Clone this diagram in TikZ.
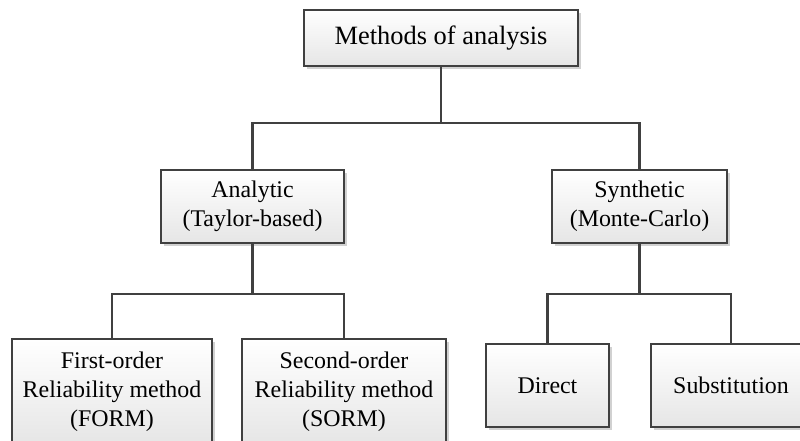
\documentclass[tikz,border=0pt]{standalone}
\usepackage{fontspec}
\setmainfont{Liberation Serif}
\usetikzlibrary{shadows}

\begin{document}
\begin{tikzpicture}[x=0.025cm, y=-0.025cm]
  \definecolor{boxline}{HTML}{404040}
  \tikzstyle{box}=[draw=boxline, line width=1.4pt, rectangle, top color=white, bottom color=black!10,
    align=center, inner sep=0pt, font=\fontsize{17}{20.5}\selectfont,
    drop shadow={shadow xshift=0.07cm, shadow yshift=-0.07cm, fill=black!18, opacity=1}]
  \tikzstyle{link}=[draw=boxline, line width=1.6pt]

  \useasboundingbox (0,0) rectangle (800,440);

  \node[box, minimum width=274*0.025cm, minimum height=56*0.025cm, font=\fontsize{18.8}{22}\selectfont] (methods) at (441,38) {Methods of analysis};

  \node[box, minimum width=183*0.025cm, minimum height=73*0.025cm] (analytic) at (252.5,206.5) {Analytic\\(Taylor-based)};
  \node[box, minimum width=175*0.025cm, minimum height=73*0.025cm] (synthetic) at (639.5,206.5) {Synthetic\\(Monte-Carlo)};

  \node[box, minimum width=200*0.025cm, minimum height=106*0.025cm] (form) at (112,392) {First-order\\Reliability method\\(FORM)};
  \node[box, minimum width=204*0.025cm, minimum height=106*0.025cm] (sorm) at (344,392) {Second-order\\Reliability method\\(SORM)};
  \node[box, minimum width=123*0.025cm, minimum height=83*0.025cm] (direct) at (547.5,385.5) {Direct};
  \node[box, minimum width=160*0.025cm, minimum height=83*0.025cm] (subst) at (731,385.5) {Substitution};

	\draw[link] (methods.south) -- ++(0,56) coordinate (fork1) -| (analytic.north);
	\draw[link] (fork1) -| (synthetic.north);

	\draw[link] (analytic.south) -- ++(0,50) coordinate (fork2) -| (form.north);
	\draw[link] (fork2) -| (sorm.north);

	\draw[link] (synthetic.south) -- ++(0,50) coordinate (fork3) -| (direct.north);
	\draw[link] (fork3) -| (subst.north);

\end{tikzpicture}
\end{document}
